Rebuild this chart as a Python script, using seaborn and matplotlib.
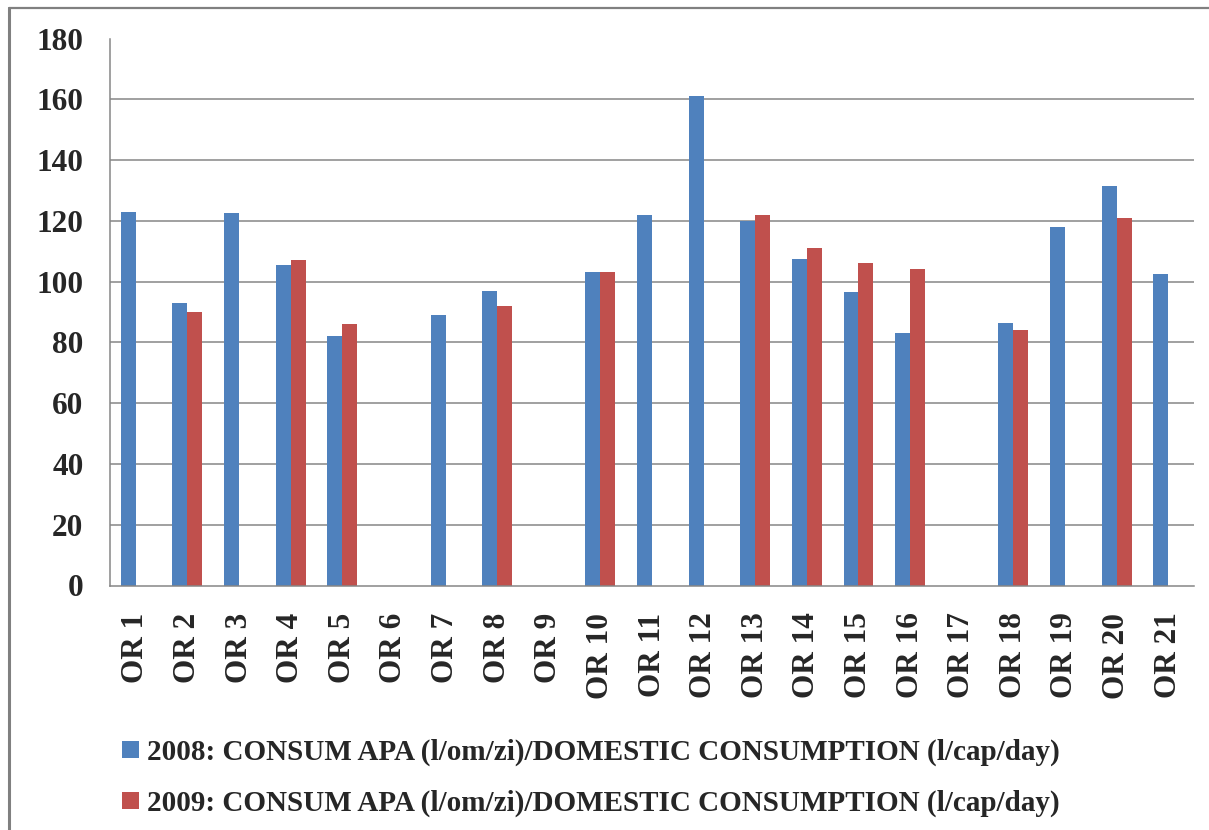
import numpy as np
import pandas as pd
import matplotlib
matplotlib.use("Agg")
import matplotlib.pyplot as plt
from matplotlib.lines import Line2D
import seaborn as sns

# Domestic water consumption per region, litres per person per day
regions = [f"OR {i}" for i in range(1, 22)]
consum_2008 = [123, 93, 122.5, 105.5, 82, np.nan, 89, 97, np.nan, 103, 122,
               161, 120, 107.5, 96.5, 83, np.nan, 86.5, 118, 131.5, 102.5]
consum_2009 = [np.nan, 90, np.nan, 107, 86, np.nan, np.nan, 92, np.nan, 103, np.nan,
               np.nan, 122, 111, 106, 104, np.nan, 84, np.nan, 121, np.nan]
series_names = [
    "2008: CONSUM APA (l/om/zi)/DOMESTIC CONSUMPTION (l/cap/day)",
    "2009: CONSUM APA (l/om/zi)/DOMESTIC CONSUMPTION (l/cap/day)",
]
y_ticks = [0, 20, 40, 60, 80, 100, 120, 140, 160, 180]
colors = ["#4F81BD", "#C0504D"]
grid_color = "#868686"

df = pd.DataFrame({
    "region": regions * 2,
    "series": [series_names[0]] * len(regions) + [series_names[1]] * len(regions),
    "value": consum_2008 + consum_2009,
})

sns.set_style("white")
plt.rcParams["font.family"] = ["Liberation Serif", "DejaVu Serif"]
plt.rcParams["font.weight"] = "bold"

fig = plt.figure(figsize=(12.09, 8.30), dpi=100)
ax = fig.add_axes([110 / 1209, 1 - 585.5 / 830, (1194 - 110) / 1209, (585.5 - 38.5) / 830])

sns.barplot(data=df, x="region", y="value", hue="series",
            order=regions, hue_order=series_names, palette=colors,
            width=0.58, gap=0, saturation=1, errorbar=None,
            linewidth=0, edgecolor="none", ax=ax)

handles, labels = ax.get_legend_handles_labels()
if ax.get_legend() is not None:
    ax.get_legend().remove()

ax.set_xlim(-0.5, len(regions) - 0.5)
ax.set_ylim(0, 180)
ax.set_yticks(y_ticks)
ax.set_xlabel("")
ax.set_ylabel("")

# horizontal gridlines (none at the very top)
ax.set_axisbelow(True)
for v in y_ticks[1:-1]:
    ax.axhline(v, color=grid_color, lw=1.1, zorder=0)

for side in ["top", "right"]:
    ax.spines[side].set_visible(False)
for side in ["left", "bottom"]:
    ax.spines[side].set_color(grid_color)
    ax.spines[side].set_linewidth(1.1)

# category boundary ticks on the x axis
ax.set_xticks(np.arange(-0.5, len(regions), 1.0), minor=True)
ax.tick_params(axis="x", which="minor", length=9, width=1.1, color=grid_color, direction="out")
ax.tick_params(axis="x", which="major", length=0, pad=19.5, labelsize=22.5)
ax.tick_params(axis="y", which="major", length=7, width=1.1, color=grid_color,
               direction="out", pad=12, labelsize=22.5)
for lbl in ax.get_xticklabels():
    lbl.set_rotation(90)
    lbl.set_va("top")
    lbl.set_ha("center")
    lbl.set_fontweight("bold")
for lbl in ax.get_yticklabels():
    lbl.set_fontweight("bold")

for h in handles:
    h.set_linewidth(0)

fig.legend(handles, labels, loc="upper left", bbox_to_anchor=(122 / 1209, 1 - 739 / 830),
           frameon=False, borderpad=0, borderaxespad=0,
           prop={"family": "Liberation Serif", "weight": "bold", "size": 21},
           handlelength=0.57, handleheight=0.52, handletextpad=0.28, labelspacing=0.8)

# chart-area frame lines on the left and top edges
fig.add_artist(Line2D([8.5 / 1209, 8.5 / 1209], [0, 1 - 8 / 830], transform=fig.transFigure,
                      color="#808080", lw=2.2))
fig.add_artist(Line2D([8.5 / 1209, 1], [1 - 8 / 830, 1 - 8 / 830], transform=fig.transFigure,
                      color="#808080", lw=1.6))

fig.savefig("out.png", dpi=100, facecolor="white")
